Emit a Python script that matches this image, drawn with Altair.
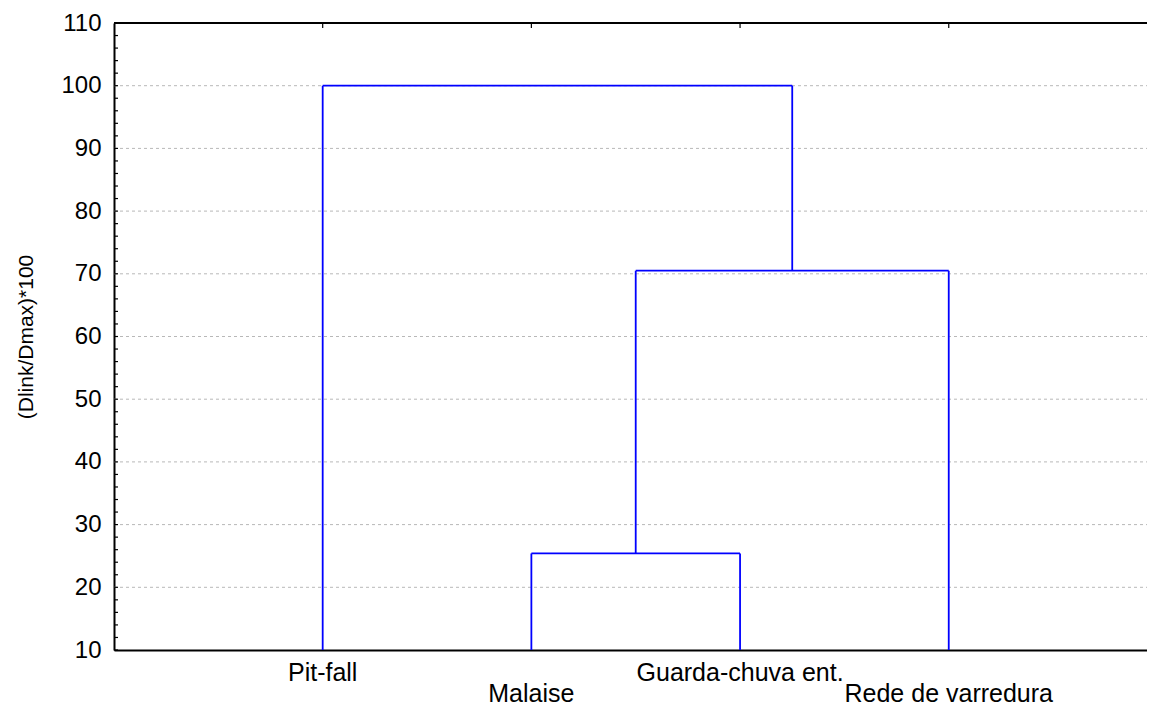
import altair as alt
import pandas as pd

# Leaves of the dendrogram (left to right) and their axis positions
leaves = ["Pit-fall", "Malaise", "Guarda-chuva ent.", "Rede de varredura"]
leaf_pos = [1, 2, 3, 4]
label_row = [0, 1, 0, 1]

# Linkage heights, (Dlink/Dmax)*100
h_malaise_guarda = 25.4
h_with_rede = 70.5
h_with_pitfall = 100.0
base = 10.0

y_ticks = list(range(10, 111, 10))
y_minor = list(range(10, 111, 2))

# Build segments of the dendrogram from the linkage
c1 = (leaf_pos[1] + leaf_pos[2]) / 2
c2 = (c1 + leaf_pos[3]) / 2
segs = [
    (leaf_pos[1], base, leaf_pos[1], h_malaise_guarda),
    (leaf_pos[2], base, leaf_pos[2], h_malaise_guarda),
    (leaf_pos[1], h_malaise_guarda, leaf_pos[2], h_malaise_guarda),
    (c1, h_malaise_guarda, c1, h_with_rede),
    (leaf_pos[3], base, leaf_pos[3], h_with_rede),
    (c1, h_with_rede, leaf_pos[3], h_with_rede),
    (leaf_pos[0], base, leaf_pos[0], h_with_pitfall),
    (c2, h_with_rede, c2, h_with_pitfall),
    (leaf_pos[0], h_with_pitfall, c2, h_with_pitfall),
]
seg_df = pd.DataFrame(segs, columns=["x", "y", "x2", "y2"])
leaf_df = pd.DataFrame({"pos": leaf_pos, "label": leaves, "row": label_row})
grid_df = pd.DataFrame({"v": [v for v in y_ticks if 10 < v < 110]})
minor_df = pd.DataFrame({"v": y_minor})

W, H = 1033, 627
FONT = "Liberation Sans"
xs = alt.Scale(domain=[0, 4.95], nice=False, zero=False)
ys = alt.Scale(domain=[10, 110], nice=False, zero=False)

grid = alt.Chart(grid_df).mark_rule(
    color="#b8b8b8", strokeDash=[3, 3], strokeWidth=1
).encode(
    y=alt.Y("v:Q", scale=ys,
            axis=alt.Axis(values=y_ticks, title="(Dlink/Dmax)*100", grid=False,
                          domain=True, domainColor="black", domainWidth=2,
                          ticks=False, labelPadding=13,
                          labelFont=FONT, labelFontSize=24, labelColor="black",
                          titleFont=FONT, titleFontSize=21, titleFontWeight="normal",
                          titleColor="black", titlePadding=24)),
    x=alt.value(0), x2=alt.value(W),
)

minor = alt.Chart(minor_df).mark_rule(color="black", strokeWidth=1.2).encode(
    y=alt.Y("v:Q", scale=ys),
    x=alt.value(0), x2=alt.value(4),
)

top_line = alt.Chart(leaf_df).mark_rule(color="black", strokeWidth=2).encode(
    x=alt.value(0), x2=alt.value(W), y=alt.value(0),
)

top_ticks = alt.Chart(leaf_df).mark_rule(color="black", strokeWidth=1.2).encode(
    x=alt.X("pos:Q", scale=xs),
    y=alt.value(0), y2=alt.value(5),
)

dendro = alt.Chart(seg_df).mark_rule(color="#0000ff", strokeWidth=1.8).encode(
    x=alt.X("x:Q", scale=xs,
            axis=alt.Axis(labels=False, ticks=False, title=None, grid=False,
                          domain=True, domainColor="black", domainWidth=2)),
    x2="x2:Q",
    y=alt.Y("y:Q", scale=ys),
    y2="y2:Q",
)

labels_row0 = alt.Chart(leaf_df).transform_filter("datum.row == 0").mark_text(
    font=FONT, fontSize=25, color="black", baseline="alphabetic", align="center"
).encode(
    x=alt.X("pos:Q", scale=xs), y=alt.value(H + 31), text="label:N",
)
labels_row1 = alt.Chart(leaf_df).transform_filter("datum.row == 1").mark_text(
    font=FONT, fontSize=25, color="black", baseline="alphabetic", align="center"
).encode(
    x=alt.X("pos:Q", scale=xs), y=alt.value(H + 52), text="label:N",
)

chart = alt.layer(
    grid, minor, top_line, top_ticks, dendro, labels_row0, labels_row1
).properties(
    width=W, height=H,
    autosize=alt.AutoSizeParams(type="none"),
    padding={"left": 106, "top": 15, "right": 0, "bottom": 58},
).configure_view(stroke=None).configure(background="white")

chart.save("out.html", embed_options={"renderer": "svg", "actions": False})
